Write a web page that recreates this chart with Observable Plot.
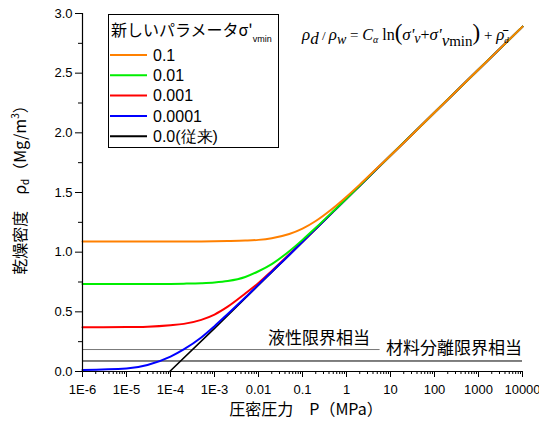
<!DOCTYPE html>
<html>
<head>
<meta charset="utf-8">
<script src="https://cdn.jsdelivr.net/npm/d3@7"></script>
<script src="https://cdn.jsdelivr.net/npm/@observablehq/plot@0.6"></script>
<style>
  body { margin: 0; background: #fff; }
  #chart { width: 539px; height: 427px; }
</style>
</head>
<body>
<div id="chart"></div>
<script>
// Consolidation pressure P (MPa) at which the dry-density curves are sampled
const pressure = [1e-6, 1e-5, 3e-5, 1e-4, 2e-4, 5e-4, 1e-3, 2e-3, 5e-3, 0.01, 0.02, 0.05,
                  0.1, 0.2, 0.5, 1, 2, 5, 10, 100, 1000, 10000];

// Dry density ρd (Mg/m3) for each value of the new parameter σ'vmin
const rhoVmin01    = [1.090, 1.090, 1.090, 1.090, 1.090, 1.090, 1.091, 1.093, 1.097, 1.103, 1.117, 1.152,
                      1.197, 1.261, 1.370, 1.465, 1.566, 1.705, 1.81, 2.17, 2.53, 2.89];
const rhoVmin001   = [0.733, 0.733, 0.733, 0.734, 0.736, 0.740, 0.746, 0.758, 0.792, 0.840, 0.900, 1.008,
                      1.103, 1.204, 1.343, 1.450, 1.558, 1.702, 1.81, 2.17, 2.53, 2.89];
const rhoVmin0001  = [0.371, 0.372, 0.375, 0.387, 0.399, 0.433, 0.477, 0.543, 0.653, 0.742, 0.843, 0.982,
                      1.089, 1.197, 1.340, 1.449, 1.557, 1.701, 1.81, 2.17, 2.53, 2.89];
const rhoVmin00001 = [0.013, 0.025, 0.055, 0.125, 0.185, 0.285, 0.380, 0.482, 0.620, 0.728, 0.836, 0.977,
                      1.087, 1.196, 1.340, 1.449, 1.557, 1.701, 1.81, 2.17, 2.53, 2.89];

// Conventional model (σ'vmin = 0): a straight line on the log axis
const pressureConventional = [9.6e-5, 1e-3, 0.01, 0.1, 1, 10, 100, 1000, 10000];
const rhoConventional      = [0, 0.362, 0.723, 1.084, 1.446, 1.81, 2.17, 2.53, 2.89];

const seriesLabels = ["0.1", "0.01", "0.001", "0.0001", "0.0(従来)"];
const seriesColors = ["#ff8000", "#00ee00", "#ff0000", "#0000ff", "#000000"];

// Reference densities
const limitNames  = ["液性限界相当", "材料分離限界相当"];
const limitValues = [0.184, 0.088];
const liquidLimitEnd = 5.8;   // P where the liquid-limit line stops

// Axis ticks
const xTicks = [1e-6, 1e-5, 1e-4, 1e-3, 0.01, 0.1, 1, 10, 100, 1000, 10000];
const xTickLabels = ["1E-6", "1E-5", "1E-4", "1E-3", "0.01", "0.1", "1", "10", "100", "1000", "10000"];
const yTicks = [0, 0.5, 1.0, 1.5, 2.0, 2.5, 3.0];
const yMinorTicks = [0.25, 0.75, 1.25, 1.75, 2.25, 2.75];

const xMinorTicks = [];
for (const d of xTicks.slice(0, -1)) for (let k = 2; k <= 9; k++) xMinorTicks.push(d * k);
const xLabelOf = new Map(xTicks.map((d, i) => [d, xTickLabels[i]]));

const rows = (xs, ys) => xs.map((p, i) => ({p, rho: ys[i]}));
const curves = [
  {rows: rows(pressureConventional, rhoConventional), color: seriesColors[4], width: 1.6, curve: "linear"},
  {rows: rows(pressure, rhoVmin0001), color: seriesColors[2], width: 2, curve: "monotone-x"},
  {rows: rows(pressure, rhoVmin00001), color: seriesColors[3], width: 2, curve: "monotone-x"},
  {rows: rows(pressure, rhoVmin001), color: seriesColors[1], width: 2, curve: "monotone-x"},
  {rows: rows(pressure, rhoVmin01), color: seriesColors[0], width: 2, curve: "monotone-x"}
];

const sansLatin = "'Liberation Sans', Arial, sans-serif";
const sansJP = "'Noto Sans CJK JP', 'Liberation Sans', sans-serif";

const plot = Plot.plot({
  width: 539,
  height: 427,
  marginLeft: 82,
  marginRight: 17,
  marginTop: 13,
  marginBottom: 56,
  x: {type: "log", domain: [1e-6, 1e4]},
  y: {domain: [0, 3]},
  style: {fontFamily: sansLatin, fontSize: "13px", color: "black", background: "white"},
  marks: [
    // reference density lines
    Plot.ruleY([limitValues[0]], {x1: 1e-6, x2: liquidLimitEnd, stroke: "#777", strokeWidth: 1}),
    Plot.ruleY([limitValues[1]], {x1: 1e-6, x2: 1e4, stroke: "black", strokeWidth: 1}),
    Plot.text([{t: limitNames[0], p: 3.4, v: limitValues[0]}], {
      x: "p", y: "v", text: "t", textAnchor: "end", dy: -11, fontSize: 17, fontFamily: sansJP
    }),
    Plot.text([{t: limitNames[1], p: 7.9, v: limitValues[0]}], {
      x: "p", y: "v", text: "t", textAnchor: "start", dy: -1, fontSize: 17, fontFamily: sansJP
    }),
    // density curves
    ...curves.map(c => Plot.line(c.rows, {x: "p", y: "rho", stroke: c.color, strokeWidth: c.width, curve: c.curve})),
    // axes
    Plot.ruleX([1e-6], {stroke: "black", strokeWidth: 1.2}),
    Plot.ruleY([0], {stroke: "black", strokeWidth: 1.2}),
    Plot.axisY(yTicks, {tickSize: 7, tickPadding: 3, tickFormat: d3.format(".1f"), label: null, fontSize: 13}),
    Plot.axisY(yMinorTicks, {tickSize: 4, tickFormat: () => "", label: null}),
    Plot.axisX(xTicks, {tickSize: 6, tickPadding: 7, tickFormat: d => xLabelOf.get(d), label: null, fontSize: 13}),
    Plot.axisX(xMinorTicks, {tickSize: 3, tickFormat: () => "", label: null})
  ]
});

const svg = d3.select(plot);

// y-axis title
const yTitle = svg.append("text")
  .attr("transform", "translate(22,186) rotate(-90)")
  .attr("text-anchor", "middle")
  .attr("dominant-baseline", "middle")
  .style("font-family", sansJP)
  .style("font-size", "16px");
yTitle.append("tspan").text("乾燥密度　ρ");
yTitle.append("tspan").text("d").attr("dy", 4).style("font-size", "10px");
yTitle.append("tspan").text("（Mg/m").attr("dy", -4);
yTitle.append("tspan").text("3").attr("dy", -6).style("font-size", "10px");
yTitle.append("tspan").text("）").attr("dy", 6);

// x-axis title
svg.append("text")
  .attr("x", 306).attr("y", 415)
  .attr("text-anchor", "middle")
  .style("font-family", sansJP)
  .style("font-size", "16px")
  .text("圧密圧力　P（MPa）");

// legend
const lg = svg.append("g").attr("text-anchor", "start");
lg.append("rect")
  .attr("x", 108.5).attr("y", 14.5).attr("width", 170).attr("height", 133)
  .attr("fill", "white").attr("stroke", "black").attr("stroke-width", 1);
const lt = lg.append("text").attr("x", 111).attr("y", 36)
  .style("font-family", sansJP).style("font-size", "16px");
lt.append("tspan").text("新しいパラメータσ'");
lt.append("tspan").text("vmin").attr("dy", 6).style("font-size", "9px").style("font-family", sansLatin);
seriesLabels.forEach((name, i) => {
  const y = 55 + i * 20.3;
  lg.append("line").attr("x1", 110).attr("x2", 147).attr("y1", y).attr("y2", y)
    .attr("stroke", seriesColors[i]).attr("stroke-width", 2);
  lg.append("text").attr("x", 153).attr("y", y).attr("dy", "0.36em")
    .style("font-family", sansLatin).style("font-size", "16px").text(name);
});

// model equation
const eq = svg.append("text").attr("x", 302).attr("y", 40)
  .attr("text-anchor", "start")
  .style("font-family", "'Liberation Serif', 'Times New Roman', serif")
  .style("font-size", "17px");
const part = (s, opt = {}) => {
  const t = eq.append("tspan").text(s);
  if (opt.italic) t.style("font-style", "italic");
  if (opt.dy) t.attr("dy", opt.dy);
  if (opt.size) t.style("font-size", opt.size);
  return t;
};
part("ρ", {italic: true});
part("d", {italic: true, dy: 4, size: "17px"});
part(" / ", {dy: -4, size: "13px"});
part("ρ", {italic: true});
part("w", {italic: true, dy: 4, size: "14px"});
part(" = ", {dy: -4, size: "15px"});
part("C", {italic: true, size: "16px"});
part("α", {italic: true, dy: 3, size: "10px"});
part(" ln", {dy: -3, size: "16px"});
part("(", {size: "23px"});
part("σ'", {italic: true});
part("v", {italic: true, dy: 3, size: "14px"});
part("+", {dy: -3, size: "16px"});
part("σ'", {italic: true});
part("v", {italic: true, dy: 6, size: "17px"});
part("min", {size: "15px"});
part(")", {dy: -6, size: "23px"});
part(" + ", {size: "15px"});
part("ρ̄", {italic: true});
part("d", {italic: true, dy: 3, size: "9px"});

document.getElementById("chart").appendChild(plot);
</script>
</body>
</html>
